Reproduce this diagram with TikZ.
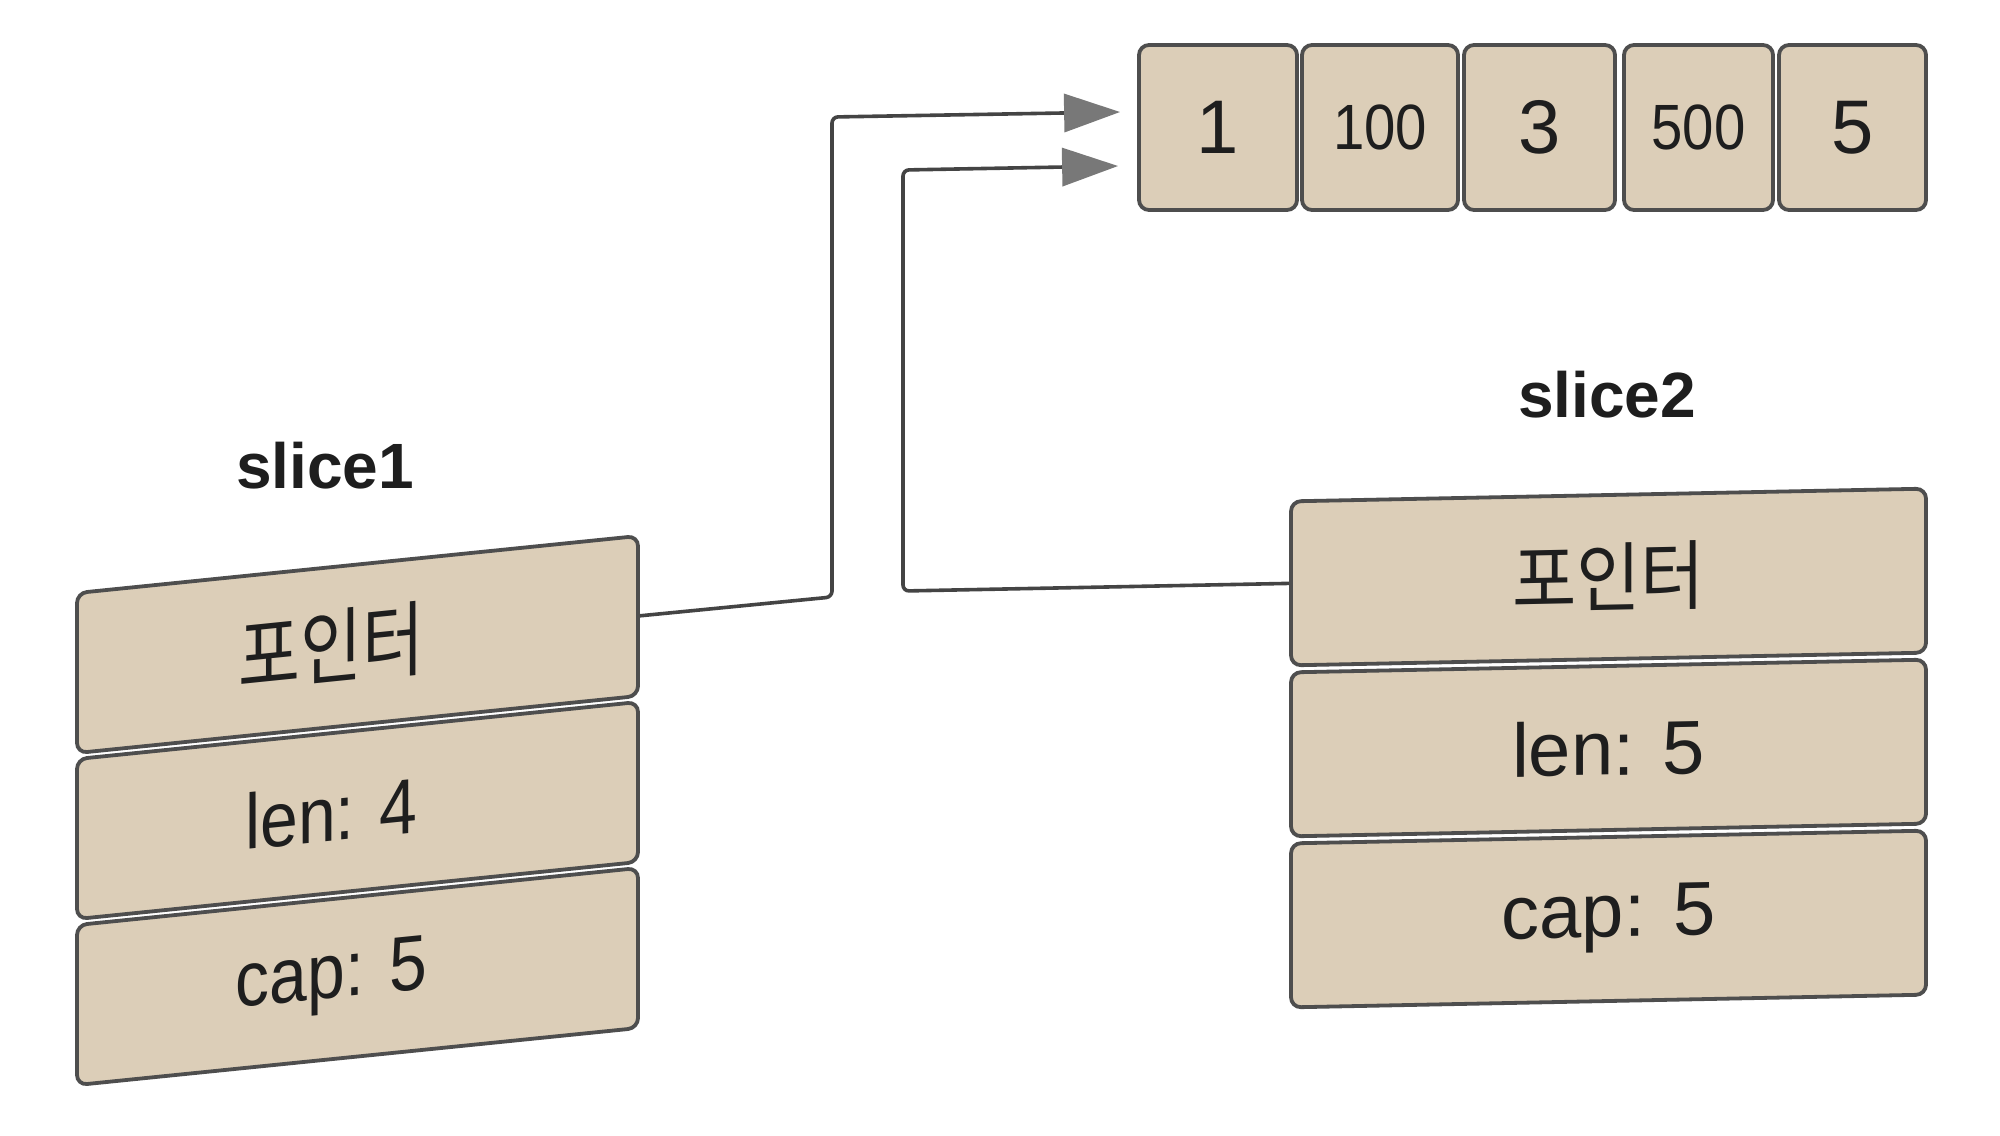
\documentclass[tikz,border=0pt]{standalone}
\usepackage{fontspec}
\setmainfont{Liberation Sans}
\newfontfamily\latcond[FakeStretch=0.87]{Liberation Sans}
\newfontfamily\krA[FakeStretch=0.82]{Noto Sans CJK KR}
\newfontfamily\krB[FakeStretch=0.92]{Noto Sans CJK KR}
\usepackage{graphicx}
\usetikzlibrary{arrows.meta,calc}
\definecolor{boxfill}{RGB}{220,206,184}
\definecolor{boxline}{RGB}{78,78,78}
\definecolor{linec}{RGB}{68,68,68}
\definecolor{headc}{RGB}{120,120,120}
\definecolor{txt}{RGB}{30,30,30}
\begin{document}
\begin{tikzpicture}[x=0.5pt,y=-0.5pt,
  cell/.style={draw=boxline, fill=boxfill, line width=1.9pt, rounded corners=5pt,
    inner sep=0pt, text=txt, font=\fontsize{38}{44}\selectfont},
  arr/.style={draw=linec, line width=1.8pt, rounded corners=3pt,
    -{Triangle[length=28pt,width=19pt,fill=headc,color=headc]}},
  lbl/.style={font=\bfseries\fontsize{32}{38}\selectfont, text=txt, inner sep=0pt},
  small/.style={font=\fontsize{32}{38}\selectfont},
  condtext/.style={font=\fontsize{39}{44}\latcond},
  krone/.style={font=\fontsize{41}{46}\krA},
  krtwo/.style={font=\fontsize{38}{44}\krB}
]
\useasboundingbox (0,0) rectangle (2000,1135);
\fill[white] (0,0) rectangle (2000,1135);

% array
\node[cell, minimum width=79pt, minimum height=82.5pt] (b1) at (1218,127.5) {1};
\node[cell, small, minimum width=78pt, minimum height=82.5pt] (b2) at (1380,127.5) {\scalebox{0.88}[1]{100}};
\node[cell, minimum width=75.5pt, minimum height=82.5pt] (b3) at (1539.5,127.5) {3};
\node[cell, small, minimum width=74.5pt, minimum height=82.5pt] (b4) at (1698.5,127.5) {\scalebox{0.88}[1]{500}};
\node[cell, minimum width=73.5pt, minimum height=82.5pt] (b5) at (1852.5,127.5) {5};

% slice1
\node[lbl] (s1) at (325,466) {slice1};
\begin{scope}[shift={(357.5,644.5)}, yslant=0.1016, transform shape]
  \node[cell, krone, minimum width=280.5pt, minimum height=80pt] (p1) at (0,0) {\hspace*{-26pt}포인터};
  \node[cell, condtext, minimum width=280.5pt, minimum height=80pt] (l1) at (0,166) {\hspace*{-26pt}len: 4};
  \node[cell, condtext, minimum width=280.5pt, minimum height=80pt] (c1) at (0,332) {\hspace*{-26pt}cap: 5};
\end{scope}

% slice2
\node[lbl] (s2) at (1607,395) {slice2};
\begin{scope}[shift={(1608.5,748)}, yslant=0.02, transform shape]
  \node[cell, krtwo, minimum width=317.5pt, minimum height=82pt] (p2) at (0,-171) {포인터};
  \node[cell, minimum width=317.5pt, minimum height=82pt] (l2) at (0,0) {len: 5};
  \node[cell, minimum width=317.5pt, minimum height=82pt] (c2) at (0,171) {cap: 5};
\end{scope}

% connectors
\draw[arr] (p1.east) -- (832,597) -- (832,117) -- ([xshift=-8.5pt,yshift=7.75pt]b1.west);
\draw[arr] (p2.west) -- (903,591) -- (903,170) -- ([xshift=-9.5pt,yshift=-19.25pt]b1.west);
\end{tikzpicture}
\end{document}
